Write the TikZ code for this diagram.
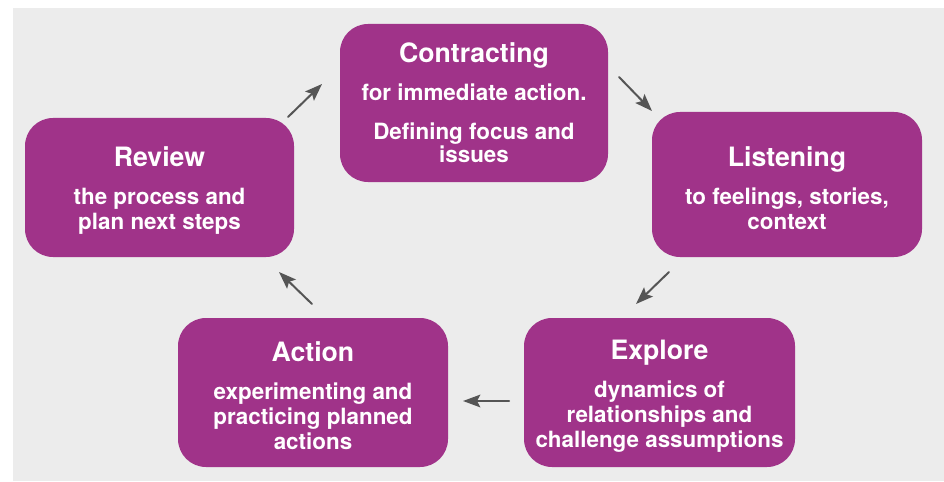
\documentclass[tikz,border=0pt]{standalone}
\usepackage{fontspec}
\setmainfont{TeX Gyre Heros}
\usetikzlibrary{arrows.meta}
\definecolor{stagepurple}{RGB}{160,51,137}
\definecolor{panelgray}{RGB}{236,236,236}
\definecolor{arrowgray}{RGB}{85,85,85}
\newcommand{\stagetitle}[2][20pt]{{\fontsize{20}{23}\selectfont\rule{0pt}{#1}#2}}
\tikzset{
  stage/.style={fill=stagepurple,text=white,rounded corners=21pt,align=center,
    font=\bfseries\fontsize{16.8}{18.75}\selectfont,inner sep=0pt},
  cycarrow/.style={draw=arrowgray,line width=1.5pt,
    -{Stealth[length=13pt,width=9.5pt,inset=2.5pt]}}
}
\begin{document}
\begin{tikzpicture}[x=0.75pt,y=-0.75pt,line cap=round,line join=round]
  \useasboundingbox (0,0) rectangle (944,481);
  \fill[panelgray] (13,8) rectangle (944,481);
  % the five stages
  \node[stage,minimum width=201.75pt,minimum height=104.25pt] (review) at (159.5,187.5)
    {\stagetitle{Review}\\[9.75pt] the process and\\ plan next steps};
  \node[stage,minimum width=201pt,minimum height=118.5pt] (contract) at (474,103)
    {\stagetitle[14pt]{Contracting}\\[9.75pt] for immediate action.\\[10.5pt] Defining focus and\\[-1.5pt] issues};
  \node[stage,minimum width=202.5pt,minimum height=108.75pt] (listen) at (787,184.5)
    {\stagetitle{Listening}\\[9.75pt] to feelings, stories,\\ context};
  \node[stage,minimum width=203.25pt,minimum height=111.75pt] (explore) at (659.5,392.5)
    {\stagetitle{Explore}\\[9.75pt] dynamics of\\ relationships and\\ challenge assumptions};
  \node[stage,minimum width=202.5pt,minimum height=111.75pt] (action) at (313,392.5)
    {\stagetitle{Action}\\[9.75pt] experimenting and\\ practicing planned\\ actions};
  % arrow ends
  \coordinate (rc1) at (288,117);  \coordinate (rc2) at (322,84);
  \coordinate (cl1) at (619,77);   \coordinate (cl2) at (652,111);
  \coordinate (le1) at (669,272);  \coordinate (le2) at (636,304);
  \coordinate (ea1) at (509,401);  \coordinate (ea2) at (463,401);
  \coordinate (ar1) at (312,304);  \coordinate (ar2) at (279,272);
  \draw[cycarrow] (rc1) -- (rc2);
  \draw[cycarrow] (cl1) -- (cl2);
  \draw[cycarrow] (le1) -- (le2);
  \draw[cycarrow] (ea1) -- (ea2);
  \draw[cycarrow] (ar1) -- (ar2);
\end{tikzpicture}
\end{document}
